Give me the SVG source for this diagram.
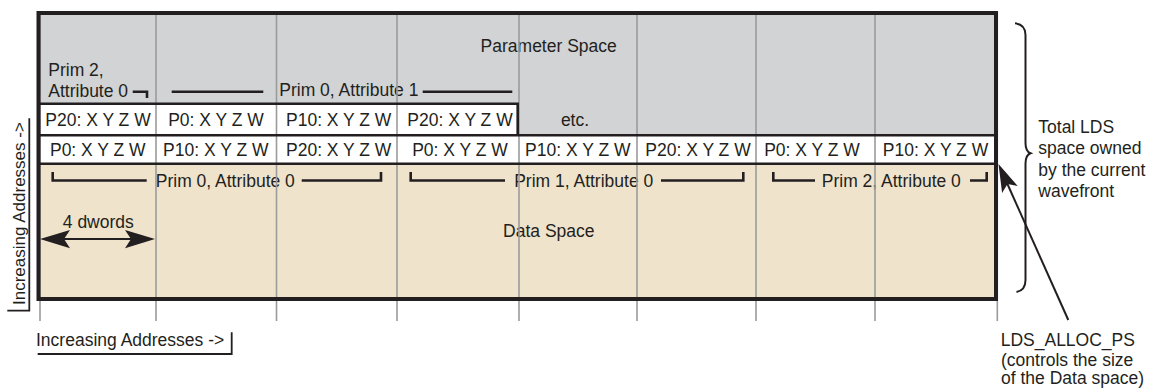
<svg xmlns="http://www.w3.org/2000/svg" width="1149" height="389" viewBox="0 0 1149 389">
<style>
text{font-family:"Liberation Sans",Arial,sans-serif;font-size:17.5px;fill:#231f20}
.c{text-anchor:middle}
.grid{stroke:#9b9b9b;stroke-width:1.6;fill:none}
.bk{stroke:#231f20;fill:none}
.br{stroke:#231f20;stroke-width:2.6;fill:none}
.ah{fill:#231f20;stroke:none}
</style>
<rect width="1149" height="389" fill="#ffffff"/>
<g id="parameter-space">
<rect x="38.5" y="13" width="957.5" height="122.3" fill="#d1d3d4"/>
<text class="c" x="548.7" y="52">Parameter Space</text>
<text x="48.3" y="75.5">Prim 2,</text>
<text x="48.3" y="96.7">Attribute 0</text>
<text x="279.3" y="96">Prim 0, Attribute 1</text>
<text class="c" x="575" y="126">etc.</text>
</g>
<g id="row-1">
<rect x="38.5" y="103.8" width="479.2" height="31.5" fill="#ffffff"/>
<text class="c" x="98" y="125.5">P20: X Y Z W</text>
<text class="c" x="216" y="125.5">P0: X Y Z W</text>
<text class="c" x="338.7" y="125.5">P10: X Y Z W</text>
<text class="c" x="460" y="125.5">P20: X Y Z W</text>
</g>
<g id="row-2">
<rect x="38.5" y="135.3" width="957.5" height="28.5" fill="#ffffff"/>
<text class="c" x="97.8" y="155.5">P0: X Y Z W</text>
<text class="c" x="215.8" y="155.5">P10: X Y Z W</text>
<text class="c" x="338.7" y="155.5">P20: X Y Z W</text>
<text class="c" x="460" y="155.5">P0: X Y Z W</text>
<text class="c" x="577.8" y="155.5">P10: X Y Z W</text>
<text class="c" x="698" y="155.5">P20: X Y Z W</text>
<text class="c" x="812" y="155.5">P0: X Y Z W</text>
<text class="c" x="935.5" y="155.5">P10: X Y Z W</text>
</g>
<g id="data-space">
<rect x="38.5" y="163.8" width="957.5" height="135.2" fill="#efe3cc"/>
<text class="c" x="225.3" y="187">Prim 0, Attribute 0</text>
<text class="c" x="583.7" y="187">Prim 1, Attribute 0</text>
<text class="c" x="891.3" y="187">Prim 2, Attribute 0</text>
<text class="c" x="548.8" y="237">Data Space</text>
<text class="c" x="98.3" y="228">4 dwords</text>
</g>
<g id="column-lines">
<path class="grid" d="M40,11V321M156,11V321M276.5,11V321M397,11V321M519,11V321M637,11V321M756,11V321M875,11V321M997.3,11V321"/>
</g>
<g id="borders">
<path class="bk" stroke-width="2.6" d="M38.5,103.8H517.7V135.3M38.5,135.3H996M38.5,163.8H996"/>
<rect class="bk" stroke-width="4" x="38.5" y="13" width="957.5" height="286"/>
</g>
<g id="axis-labels">
<text transform="translate(25,305) rotate(-90)" style="font-size:17px">Increasing Addresses -&gt;</text>
<path class="bk" stroke-width="1.8" d="M29.3,118.3V310.7H7.3"/>
<text x="36" y="345.5">Increasing Addresses -&gt;</text>
<path class="bk" stroke-width="1.8" d="M37.7,354H231.7V332.3"/>
</g>
<g id="lds-total">
<path class="bk" stroke-width="2" d="M1015,23.3C1022,24 1025.5,28 1025.5,35V143C1025.5,149 1027,152 1030.5,153.3C1027,154.6 1025.5,157.6 1025.5,163.6V280C1025.5,287 1022,291 1016.5,292"/>
<text x="1038.3" y="133">Total LDS</text>
<text x="1038.3" y="154.3">space owned</text>
<text x="1038.3" y="175.5">by the current</text>
<text x="1038.3" y="196.7">wavefront</text>
</g>
<g id="lds-alloc">
<text x="1000.7" y="345.5">LDS_ALLOC_PS</text>
<text x="1001" y="365.5">(controls the size</text>
<text x="1001" y="384">of the Data space)</text>
</g>
<g id="connectors">
<path class="br" d="M132.7,91.7H147V98"/>
<path class="br" d="M171.7,91.7H263.3M422.7,91.7H512.3"/>
<path class="br" d="M52.7,172V180.5H146.7M301.7,180.5H381V172"/>
<path class="br" d="M410.7,172V180.5H505M661,180.5H743.3V172"/>
<path class="br" d="M773.3,172V180.5H815M970,180.5H986.7V172"/>
<path class="bk" stroke-width="2" d="M62,239H133"/>
<path class="ah" d="M40,239L70,230L64,239L70,248.3Z"/>
<path class="ah" d="M155,239L125,230L131,239L125,248.3Z"/>
<path class="bk" stroke-width="2" d="M1068.3,320L1007,183"/>
<path class="ah" d="M998.5,164L1017.7,186.1L1007.5,184.1L1002.1,193.1Z"/>
</g>
</svg>
